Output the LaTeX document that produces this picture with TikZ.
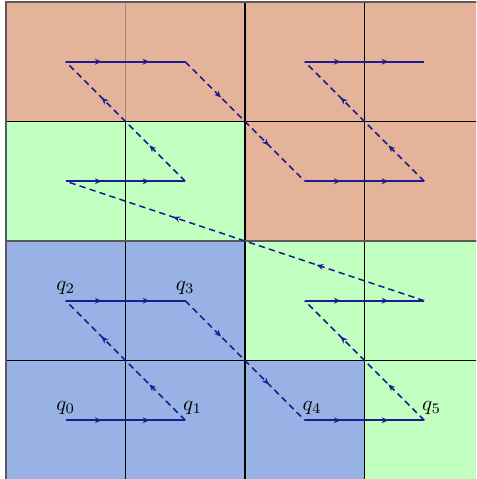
\documentclass[tikz,border=0pt]{standalone}
\usepackage{amsmath,amssymb,amsfonts}
\usepackage{xcolor}
\usepackage{tikz}
\usetikzlibrary{arrows.meta, decorations.markings}

\definecolor{blkblue}{RGB}{152,178,229}
\definecolor{blkgreen}{RGB}{192,255,192}
\definecolor{blkorange}{RGB}{229,179,153}
\definecolor{zpath}{RGB}{28,28,145}

\begin{document}
\begin{tikzpicture}[
  gridline/.style={draw=black, line width=0.5pt},
  border/.style={draw=black!65, line width=1.2pt},
  zstep/.style={draw=zpath, line width=0.8pt, postaction={decorate},
    decoration={markings,
      mark=at position 0.3 with {\arrow{Stealth[length=3.2pt, width=2.8pt]}},
      mark=at position 0.7 with {\arrow{Stealth[length=3.2pt, width=2.8pt]}}}},
  zjump/.style={zstep, line width=0.7pt, densely dashed},
  qpt/.style={inner sep=0pt, minimum size=0pt},
  every label/.style={inner sep=2.4pt, text=black}
]
\clip (-0.1,0.017) rectangle (7.866,8.033);

% thread blocks
\fill[blkblue] (0,0) -- (6,0) -- (6,2) -- (4,2) -- (4,4) -- (0,4) -- cycle;
\fill[blkgreen] (6,0) -- (8,0) -- (8,4) -- (4,4) -- (4,2) -- (6,2) -- cycle;
\fill[blkgreen] (0,4) rectangle (4,6);
\fill[blkorange] (4,4) -- (8,4) -- (8,8) -- (0,8) -- (0,6) -- (4,6) -- cycle;

\draw[gridline] (0,0) grid[step=2] (8,8);
\draw[gridline, draw=blkorange!75!black] (2,6) -- (2,8);
\draw[border] (0,0) rectangle (8,8);
\draw[border] (0,4) -- (8,4);

% z-order cells
\foreach \i/\x/\y in {0/1/1, 1/3/1, 2/1/3, 3/3/3, 4/5/1, 5/7/1, 6/5/3, 7/7/3,
                      8/1/5, 9/3/5, 10/1/7, 11/3/7, 12/5/5, 13/7/5, 14/5/7, 15/7/7}
  \coordinate (z\i) at (\x,\y);

\node[qpt, label={above:$q_0$}] (q0) at (z0) {};
\node[qpt, label={[xshift=3.5pt]above:$q_1$}] (q1) at (z1) {};
\node[qpt, label={above:$q_2$}] (q2) at (z2) {};
\node[qpt, label={above:$q_3$}] (q3) at (z3) {};
\node[qpt, label={[xshift=3.5pt]above:$q_4$}] (q4) at (z4) {};
\node[qpt, label={[xshift=3.5pt]above:$q_5$}] (q5) at (z5) {};

\foreach \a/\b in {z0/z1, z2/z3, z4/z5, z6/z7, z8/z9, z10/z11, z12/z13, z14/z15}
  \draw[zstep] (\a) -- (\b);
\foreach \a/\b in {z1/z2, z3/z4, z5/z6, z7/z8, z9/z10, z11/z12, z13/z14}
  \draw[zjump] (\a) -- (\b);
\end{tikzpicture}
\end{document}
